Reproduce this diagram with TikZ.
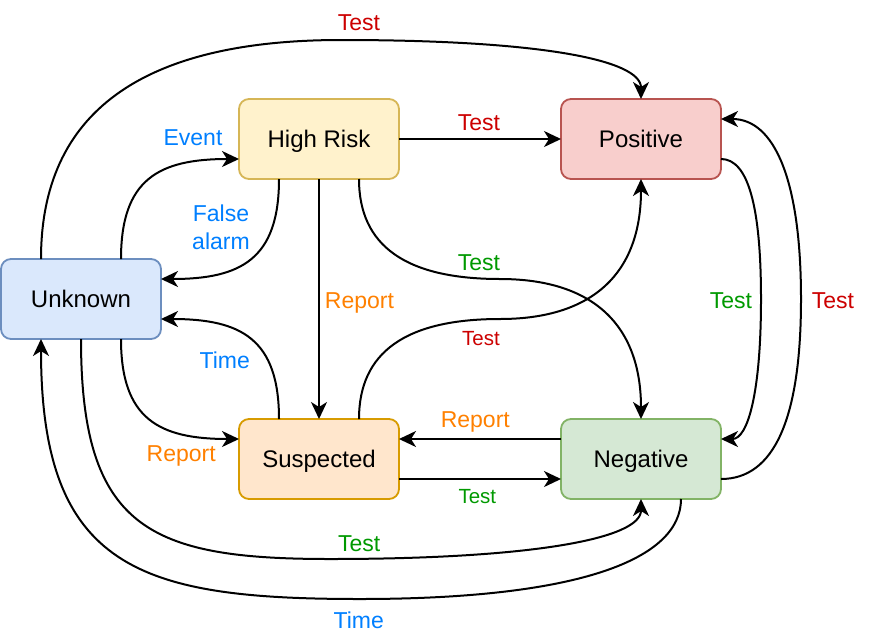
\documentclass[tikz,border=0pt]{standalone}
\usepackage{fontspec}
\setmainfont{Liberation Sans}
\usetikzlibrary{arrows.meta}
\definecolor{hrfill}{HTML}{FFF2CC}\definecolor{hrline}{HTML}{D6B656}
\definecolor{posfill}{HTML}{F8CECC}\definecolor{posline}{HTML}{B85450}
\definecolor{unkfill}{HTML}{DAE8FC}\definecolor{unkline}{HTML}{6C8EBF}
\definecolor{susfill}{HTML}{FFE6CC}\definecolor{susline}{HTML}{D79B00}
\definecolor{negfill}{HTML}{D5E8D4}\definecolor{negline}{HTML}{82B366}
\definecolor{lblblue}{HTML}{007FFF}
\definecolor{lblorange}{HTML}{FF8000}
\definecolor{lblgreen}{HTML}{009900}
\definecolor{lblred}{HTML}{CC0000}
\tikzset{statebox/.style={rectangle,rounded corners=10pt,line width=1.8pt,
    minimum width=160pt,minimum height=80pt,outer sep=0pt,inner sep=0pt,
    text height=17.2pt,text depth=0pt,font=\fontsize{24}{28}\selectfont},
    lbl/.style={anchor=base,inner sep=0pt,font=\fontsize{23}{27.6}\selectfont},
    smalllbl/.style={lbl,font=\fontsize{20.5}{24}\selectfont},
    }

\begin{document}
\begin{tikzpicture}[x=1pt,y=-1pt,line width=2pt,
    >={Stealth[length=17pt,width=16pt,inset=5pt]}]
	\useasboundingbox (0,0) rectangle (874,640);
	\node[statebox,draw=hrline,fill=hrfill] (hr) at (319,139) {High Risk};
	\node[statebox,draw=posline,fill=posfill] (pos) at (641,139) {Positive};
	\node[statebox,draw=unkline,fill=unkfill] (unk) at (81,299) {Unknown};
	\node[statebox,draw=susline,fill=susfill] (sus) at (319,459) {Suspected};
	\node[statebox,draw=negline,fill=negfill] (neg) at (641,459) {Negative};
	% straight ones
	\draw[->] (hr.east) -- (pos.west);
	\draw[->] (hr.south) -- (sus.north);
	\draw[->] ([yshift=20pt]neg.west) -- ([yshift=20pt]sus.east);
	\draw[->] ([yshift=-20pt]sus.east) -- ([yshift=-20pt]neg.west);
	% curved ones
	\draw[->] ([xshift=-40pt]unk.north)..controls +(0,-146) and +(-200,0)..(341,40)
		..controls +(200,0) and +(0,-39)..(pos.north);
	\draw[->] ([xshift=40pt]unk.north)..controls +(0,-80) and +(-80,0)..([yshift=-20pt]hr.west);
	\draw[->] ([xshift=-40pt]hr.south)..controls +(0,80) and +(80,0)..([yshift=20pt]unk.east);
	\draw[->] ([xshift=40pt]hr.south)..controls +(0,67) and +(-94,0)..(500,279)
		..controls +(94,0) and +(0,-93)..(neg.north);
	\draw[->] ([xshift=-40pt]sus.north)..controls +(0,-80) and +(80,0)..([yshift=-20pt]unk.east);
	\draw[->] ([xshift=40pt]unk.south)..controls +(0,80) and +(-80,0)..([yshift=20pt]sus.west);
	\draw[->] ([xshift=40pt]sus.north)..controls +(0,-67) and +(-94,0)..(500,319)
		..controls +(94,0) and +(0,93)..(pos.south);
	\draw[->] (unk.south)..controls +(0,190) and +(-180,0)..(330,559)
		..controls +(200,0) and +(0,40)..(neg.south);
	\draw[->] ([xshift=40pt]neg.south)..controls +(0,60) and +(220,0)..(360,599)
		..controls +(-220,0) and +(0,230)..([xshift=-40pt]unk.south);
	\draw[->] ([yshift=-20pt]pos.east)..controls +(27,0) and +(0,-93)..(761,299)
		..controls +(0,93) and +(27,0)..([yshift=20pt]neg.east);
	\draw[->] ([yshift=-20pt]neg.east)..controls +(53,0) and +(0,120)..(801,299)
		..controls +(0,-120) and +(53,0)..([yshift=20pt]pos.east);
	% labels
	\node[lbl,text=lblred] (t1) at (359,30) {Test};
	\node[lbl,text=lblblue] (t2) at (193,145.7) {Event};
	\node[lbl,anchor=center,align=center,text=lblblue] (t3) at (221,227.2) {False\\alarm};
	\node[lbl,text=lblred] (t4) at (479,130) {Test};
	\node[lbl,text=lblorange] (t5) at (359.5,308.3) {Report};
	\node[lbl,text=lblgreen] (t6) at (479,270) {Test};
	\node[lbl,text=lblblue] (t7) at (224.7,368.3) {Time};
	\node[lbl,text=lblorange] (t8) at (181.2,461.7) {Report};
	\node[smalllbl,text=lblred] (t9) at (481,345.7) {Test};
	\node[lbl,text=lblorange] (t10) at (475.3,427.7) {Report};
	\node[smalllbl,text=lblgreen] (t11) at (477.3,503.3) {Test};
	\node[lbl,text=lblgreen] (t12) at (359.2,551.7) {Test};
	\node[lbl,text=lblblue] (t13) at (358.8,628.3) {Time};
	\node[lbl,text=lblgreen] (t14) at (731,308.3) {Test};
	\node[lbl,text=lblred] (t15) at (833,308.3) {Test};
\end{tikzpicture}
\end{document}
